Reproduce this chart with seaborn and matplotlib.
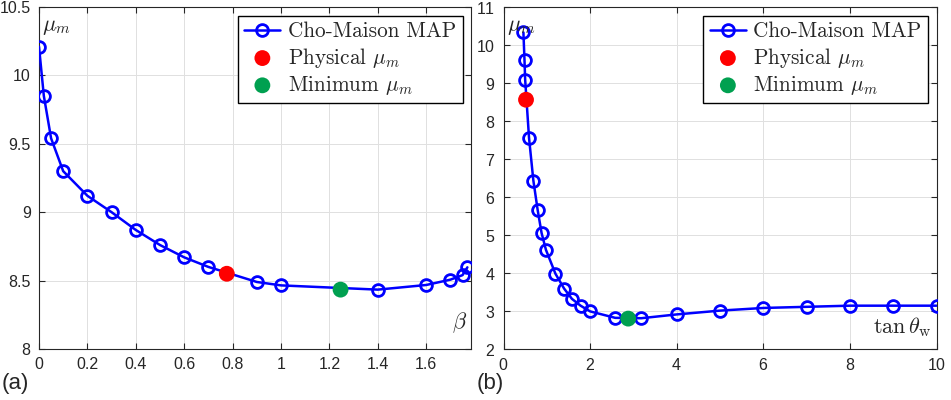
import numpy as np
import pandas as pd
import seaborn as sns
import matplotlib.pyplot as plt
from matplotlib.font_manager import FontProperties

# Panel (a): mu_m against beta
beta = [0.0, 0.02, 0.05, 0.1, 0.2, 0.3, 0.4, 0.5, 0.6, 0.7, 0.9, 1.0, 1.4, 1.6, 1.7, 1.75, 1.77]
mu_beta = [10.21, 9.85, 9.54, 9.30, 9.12, 9.00, 8.87, 8.76, 8.67, 8.60, 8.49, 8.465, 8.434, 8.468, 8.507, 8.54, 8.597]
beta_phys, mu_beta_phys = 0.776, 8.55
beta_min, mu_beta_min = 1.246, 8.434

# Panel (b): mu_m against tan(theta_w)
tanw = [0.46, 0.485, 0.5, 0.59, 0.69, 0.79, 0.88, 0.98, 1.2, 1.4, 1.58, 1.78, 2.0, 2.58, 3.18,
        4.0, 5.0, 6.0, 7.0, 8.0, 9.0, 10.0]
mu_tanw = [10.33, 9.60, 9.09, 7.55, 6.43, 5.65, 5.05, 4.61, 3.98, 3.59, 3.32, 3.14, 2.99, 2.82, 2.81,
           2.91, 3.01, 3.08, 3.11, 3.14, 3.14, 3.14]
tanw_phys, mu_tanw_phys = 0.52, 8.56
tanw_min, mu_tanw_min = 2.88, 2.80

sns.set_style("ticks")
plt.rcParams['font.family'] = ['Liberation Sans', 'DejaVu Sans']
plt.rcParams['mathtext.fontset'] = 'cm'
plt.rcParams['axes.formatter.use_mathtext'] = True

GREEN = '#00a050'
TXT = '#262626'
legend_font = FontProperties(family='cmr10', size=15.3)


def draw_panel(ax, x, y, xp, yp, xm, ym):
    df = pd.DataFrame({'x': x, 'y': y})
    sns.lineplot(data=df, x='x', y='y', ax=ax, color='blue', lw=1.8, marker='o', ms=8.5,
                 mfc='none', mec='blue', mew=2.0, sort=False, estimator=None,
                 label='Cho-Maison MAP', zorder=3)
    sns.scatterplot(x=[xp], y=[yp], ax=ax, color='red', s=130, edgecolor='none',
                    label=r'Physical $\mu_m$', zorder=4)
    sns.scatterplot(x=[xm], y=[ym], ax=ax, color=GREEN, s=130, edgecolor='none',
                    label=r'Minimum $\mu_m$', zorder=4)
    ax.set_xlabel('')
    ax.set_ylabel('')
    ax.grid(True, color='#e0e0e0', lw=0.7)
    ax.set_axisbelow(True)
    for s in ax.spines.values():
        s.set_visible(True)
        s.set_color(TXT)
        s.set_linewidth(0.8)
    ax.tick_params(direction='in', length=4, top=True, right=True, labelsize=11.5,
                   colors=TXT, pad=6)
    ax.text(0.008, 0.975, r'$\mu_m$', transform=ax.transAxes, va='top', ha='left',
            fontsize=16, color=TXT)
    leg = ax.legend(loc='upper right', prop=legend_font, frameon=True, fancybox=False,
                    framealpha=1, edgecolor='black', borderaxespad=0.4,
                    handlelength=1.7, labelspacing=0.2, borderpad=0.3, handletextpad=0.35,
                    markerscale=1.0)
    leg.get_frame().set_linewidth(1.0)


fig = plt.figure(figsize=(9.51, 4.0), dpi=100)
ax1 = fig.add_axes([39 / 951, 51 / 400, 432 / 951, 342 / 400])
ax2 = fig.add_axes([503.5 / 951, 51 / 400, 433 / 951, 342 / 400])

draw_panel(ax1, beta, mu_beta, beta_phys, mu_beta_phys, beta_min, mu_beta_min)
ax1.set_xlim(0, 1.785)
ax1.set_ylim(8, 10.5)
ax1.set_xticks(np.arange(0, 1.61, 0.2))
ax1.set_xticklabels(['0', '0.2', '0.4', '0.6', '0.8', '1', '1.2', '1.4', '1.6'])
ax1.set_yticks([8, 8.5, 9, 9.5, 10, 10.5])
ax1.set_yticklabels(['8', '8.5', '9', '9.5', '10', '10.5'])
ax1.text(0.99, 0.04, r'$\beta$', transform=ax1.transAxes, ha='right', va='bottom',
         fontsize=16, color=TXT)

draw_panel(ax2, tanw, mu_tanw, tanw_phys, mu_tanw_phys, tanw_min, mu_tanw_min)
ax2.set_xlim(0, 10)
ax2.set_ylim(2, 11)
ax2.set_xticks(range(0, 11, 2))
ax2.set_yticks(range(2, 12))
ax2.text(0.99, 0.03, r'$\tan\theta_\mathrm{w}$', transform=ax2.transAxes, ha='right',
         va='bottom', fontsize=16, color=TXT)

fig.text(2 / 951, 0.04, '(a)', fontsize=16, va='center', ha='left', color=TXT)
fig.text(477 / 951, 0.04, '(b)', fontsize=16, va='center', ha='left', color=TXT)

fig.savefig('out.png', dpi=100)
